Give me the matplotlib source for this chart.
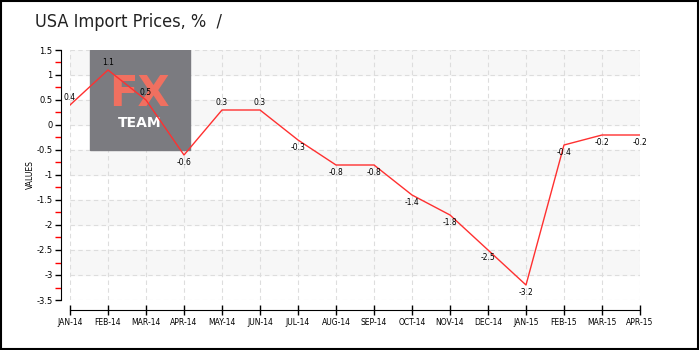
import matplotlib
matplotlib.use("Agg")
import matplotlib.pyplot as plt
from matplotlib.patches import Rectangle
from matplotlib.ticker import MultipleLocator

months = ["JAN-14", "FEB-14", "MAR-14", "APR-14", "MAY-14", "JUN-14", "JUL-14", "AUG-14",
          "SEP-14", "OCT-14", "NOV-14", "DEC-14", "JAN-15", "FEB-15", "MAR-15", "APR-15"]
values = [0.4, 1.1, 0.5, -0.6, 0.3, 0.3, -0.3, -0.8, -0.8, -1.4, -1.8, -2.5, -3.2, -0.4, -0.2, -0.2]
labels = ["0.4", "1.1", "0.5", "-0.6", "0.3", "0.3", "-0.3", "-0.8", "-0.8", "-1.4", "-1.8",
          "-2.5", "-3.2", "-0.4", "-0.2", "-0.2"]

plt.rcParams["font.family"] = ["DejaVu Sans"]

fig = plt.figure(figsize=(7, 3.5), dpi=100)
ax = fig.add_axes([70 / 700, 50 / 350, 570 / 700, 250 / 350])

x = list(range(len(months)))
ax.set_xlim(0, len(months) - 1)
ax.set_ylim(-3.5, 1.5)

# alternating bands
for lo in [1.0, 0.0, -1.0, -2.0, -3.0]:
    ax.axhspan(lo, lo + 0.5, color="#f7f7f7", zorder=0)

ax.grid(True, color="#dddddd", linestyle=(0, (4, 3)), linewidth=0.8, zorder=1)
ax.set_axisbelow(True)

# watermark logo
logo = Rectangle((0.53, -0.5), 2.63, 2.0, color="#7b7b80", zorder=2)
ax.add_patch(logo)
ax.text(1.84, 0.62, "FX", color="#f07060", fontsize=30, fontweight="bold",
        ha="center", va="center", zorder=2)
ax.text(1.84, 0.03, "TEAM", color="white", fontsize=10, fontweight="bold",
        ha="center", va="center", zorder=2)

ax.plot(x, values, color="#ff3030", linewidth=1.0, zorder=3)

for xi, v, lab in zip(x, values, labels):
    off = 2 if v > 0 else -2
    ax.annotate(lab, (xi, v), xytext=(0, off), textcoords="offset points",
                ha="center", va="bottom" if v > 0 else "top", fontsize=5.5, zorder=4)

ax.set_xticks(x)
ax.set_xticklabels(months)
ax.yaxis.set_major_locator(MultipleLocator(0.5))
ax.yaxis.set_minor_locator(MultipleLocator(0.25))
ax.yaxis.set_major_formatter(lambda t, pos: f"{t:g}")

for s in ["top", "right"]:
    ax.spines[s].set_visible(False)
ax.spines["left"].set_position(("outward", 6.5))
ax.spines["bottom"].set_position(("outward", 7.2))
ax.tick_params(axis="x", direction="inout", length=7, width=1, pad=2, labelsize=5.5)
ax.tick_params(axis="y", which="major", direction="out", length=4, width=1, pad=2,
               labelsize=6)
ax.tick_params(axis="y", which="minor", direction="out", length=4, width=1, color="red")

ax.set_ylabel("VALUES", fontsize=5.5, labelpad=1)

fig.text(35 / 700, 1 - 22 / 350, "USA Import Prices, %  /", fontsize=13, va="center",
         ha="left", color="#222222", fontstretch="condensed")

fig.patches.append(Rectangle((0.001, 0.003), 0.996, 0.994, transform=fig.transFigure,
                             fill=False, edgecolor="black", linewidth=1.5))

fig.savefig("out.png", dpi=100)
